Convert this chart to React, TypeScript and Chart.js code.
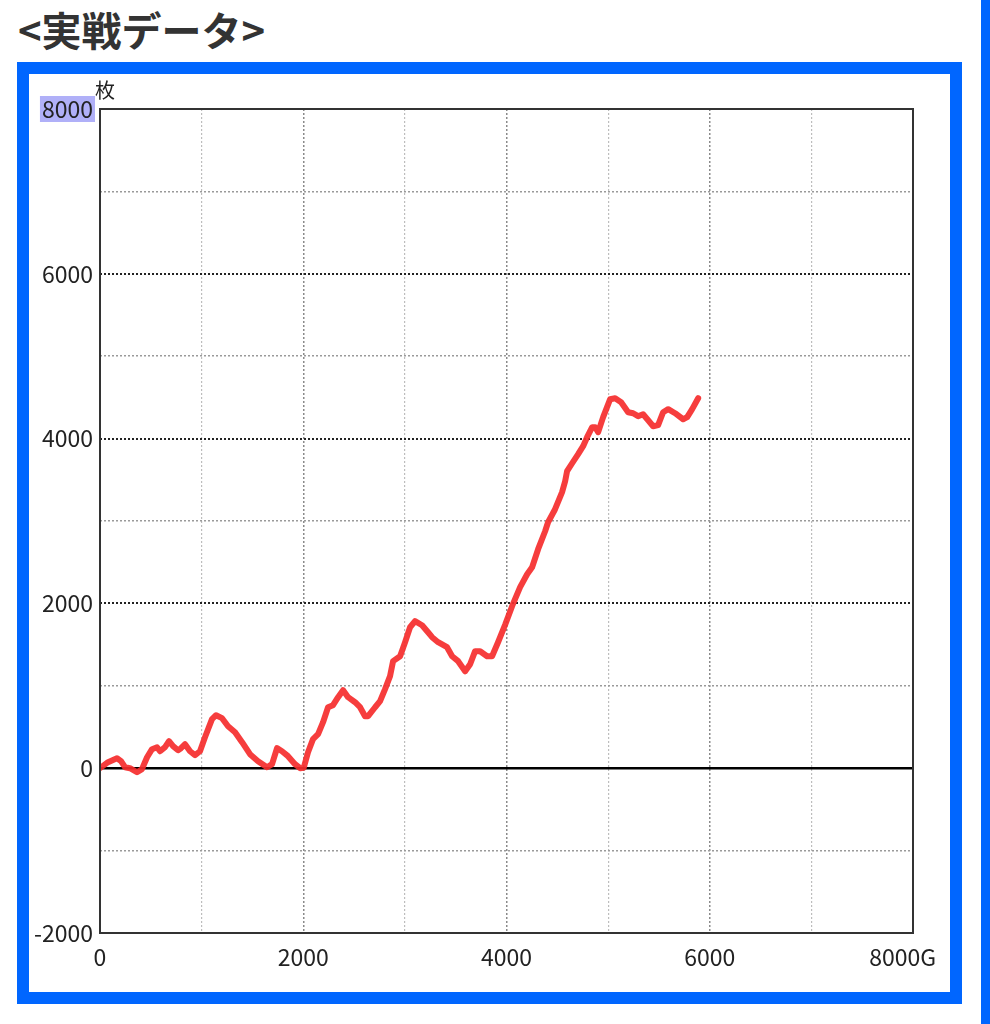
import React, { useEffect, useRef } from "react";
import { Chart, registerables } from "chart.js";

Chart.register(...registerables);

// game count (G)
const games = [
  0, 79, 167, 207, 246, 295, 364, 413, 463, 512, 561, 591, 640, 679, 719, 768, 797, 837, 886, 935,
  984, 1033, 1102, 1142, 1201, 1260, 1329, 1398, 1476, 1555, 1644, 1693, 1742, 1791, 1850, 1919,
  1969, 2005, 2047, 2096, 2146, 2195, 2244, 2293, 2343, 2392, 2441, 2510, 2559, 2608, 2638, 2707,
  2756, 2805, 2854, 2884, 2953, 3002, 3051, 3100, 3169, 3228, 3268, 3327, 3415, 3465, 3524, 3593,
  3642, 3691, 3740, 3809, 3858, 3917, 3986, 4055, 4134, 4203, 4252, 4311, 4380, 4409, 4478, 4547,
  4577, 4596, 4646, 4705, 4754, 4793, 4843, 4872, 4902, 4951, 5020, 5069, 5128, 5197, 5246, 5295,
  5344, 5394, 5443, 5492, 5541, 5591, 5659, 5738, 5778, 5827, 5886,
];
// medal difference (枚)
const medals = [
  0, 73, 121, 85, 12, 0, -49, -12, 133, 231, 255, 206, 255, 328, 267, 218, 243, 291, 206, 158,
  206, 376, 595, 643, 607, 510, 437, 316, 170, 85, 12, 49, 243, 206, 146, 49,
  0, 5, 194, 352, 413, 558, 740, 765, 862, 947, 862, 801, 740, 631, 631, 740,
  813, 959, 1117, 1299, 1359, 1529, 1711, 1784, 1735, 1650, 1590, 1529, 1468, 1359, 1299, 1177,
  1262, 1420, 1420, 1359, 1359, 1529, 1740, 1966, 2197, 2354, 2439, 2658, 2876, 2985, 3143, 3350,
  3483, 3604, 3701, 3811, 3908, 4017, 4138, 4138, 4078, 4260, 4478, 4490, 4442, 4320, 4308, 4272,
  4296, 4223, 4150, 4163, 4320, 4357, 4308, 4235, 4260, 4357, 4490,
];

const xMin = 0;
const xMax = 8000;
const yMin = -2000;
const yMax = 8000;
const xLabelValues = [0, 2000, 4000, 6000, 8000];
const xLabelTexts = ["0", "2000", "4000", "6000", "8000G    "];
const yLabelValues = [-2000, 0, 2000, 4000, 6000, 8000];
const yUnit = "枚";
const titleText = "<実戦データ>";

const FONT = '"Noto Sans CJK JP", "Noto Sans", sans-serif';
const BLUE = "#0066ff";

export default function App() {
  const ref = useRef<HTMLCanvasElement | null>(null);

  useEffect(() => {
    if (!ref.current) return;

    const decor = {
      id: "decor",
      beforeDraw(chart: any) {
        const { ctx } = chart;
        const y = chart.scales.y;
        // highlight behind top label
        ctx.save();
        ctx.font = `23px ${FONT}`;
        const w = ctx.measureText(String(yMax)).width;
        const py = y.getPixelForValue(yMax);
        ctx.fillStyle = "#b0b0f8";
        ctx.fillRect(93 - w - 2, py - 13, w + 4, 26);
        ctx.restore();
      },
      beforeDatasetsDraw(chart: any) {
        const { ctx, chartArea } = chart;
        const y = chart.scales.y;
        const p0 = y.getPixelForValue(0);
        ctx.save();
        ctx.strokeStyle = "#000";
        ctx.lineWidth = 2.5;
        ctx.beginPath();
        ctx.moveTo(chartArea.left, p0);
        ctx.lineTo(chartArea.right, p0);
        ctx.stroke();
        ctx.restore();
      },
      afterDraw(chart: any) {
        const { ctx, chartArea } = chart;
        ctx.save();
        ctx.strokeStyle = "#333";
        ctx.lineWidth = 2;
        ctx.strokeRect(chartArea.left, chartArea.top, chartArea.right - chartArea.left, chartArea.bottom - chartArea.top);
        ctx.fillStyle = "#222";
        ctx.font = `20px ${FONT}`;
        ctx.textAlign = "left";
        ctx.textBaseline = "bottom";
        ctx.fillText(yUnit, chartArea.left - 5, chartArea.top - 9);
        ctx.restore();
      },
    };

    const chart = new Chart(ref.current, {
      type: "line",
      data: {
        datasets: [
          {
            data: games.map((g, i) => ({ x: g, y: medals[i] })),
            borderColor: "rgba(245, 45, 45, 0.92)",
            borderWidth: 6,
            pointRadius: 0,
            tension: 0,
            borderJoinStyle: "round",
            borderCapStyle: "round",
            fill: false,
          },
        ],
      },
      options: {
        responsive: false,
        animation: false,
        maintainAspectRatio: false,
        layout: { padding: { left: 0, top: 109, right: 77, bottom: 51 } },
        plugins: { legend: { display: false }, tooltip: { enabled: false }, title: { display: false } },
        scales: {
          x: {
            type: "linear",
            min: xMin,
            max: xMax,
            afterFit(scale: any) {
              scale.height = 40;
            },
            afterBuildTicks(scale: any) {
              const t = [];
              for (let v = xMin; v <= xMax; v += 1000) t.push({ value: v });
              scale.ticks = t;
            },
            ticks: {
              autoSkip: false,
              maxRotation: 0,
              padding: 10,
              color: "#222",
              font: { family: FONT, size: 23 },
              callback: (v: any) => {
                const i = xLabelValues.indexOf(Number(v));
                return i >= 0 ? xLabelTexts[i] : "";
              },
            },
            grid: {
              drawTicks: false,
              color: (c: any) => (c.tick && c.tick.value % 2000 === 0 ? "#8a8a8a" : "#bdbdbd"),
              lineWidth: (c: any) => (c.tick && c.tick.value % 2000 === 0 ? 1.5 : 1.2),
            },
            border: { display: false, dash: [2, 2] },
          },
          y: {
            type: "linear",
            min: yMin,
            max: yMax,
            afterFit(scale: any) {
              scale.width = 100;
            },
            afterBuildTicks(scale: any) {
              const t = [];
              for (let v = yMin; v <= yMax; v += 1000) t.push({ value: v });
              scale.ticks = t;
            },
            ticks: {
              autoSkip: false,
              padding: 7,
              color: "#222",
              font: { family: FONT, size: 23 },
              callback: (v: any) => (yLabelValues.indexOf(Number(v)) >= 0 ? String(v) : ""),
            },
            grid: {
              drawTicks: false,
              color: (c: any) => (c.tick && c.tick.value % 2000 === 0 ? "#222" : "#9a9a9a"),
              lineWidth: (c: any) => (c.tick && c.tick.value % 2000 === 0 ? 2 : 1.5),
            },
            border: { display: false, dash: [2, 2] },
          },
        },
      },
      plugins: [decor],
    } as any);

    return () => chart.destroy();
  }, []);

  return (
    <div style={{ position: "absolute", left: 0, top: 0, width: 990, height: 1024, background: "#fff", overflow: "hidden" }}>
      <div
        style={{
          position: "absolute",
          left: 18,
          top: 7,
          fontFamily: FONT,
          fontWeight: 700,
          fontSize: 40,
          lineHeight: "44px",
          color: "#333",
          whiteSpace: "nowrap",
        }}
      >
        {titleText}
      </div>
      <div
        style={{
          position: "absolute",
          left: 17,
          top: 62,
          width: 945,
          height: 942,
          boxSizing: "border-box",
          border: `12px solid ${BLUE}`,
          background: "#fff",
        }}
      />
      <div style={{ position: "absolute", left: 981, top: 0, width: 9, height: 1024, background: BLUE }} />
      <canvas ref={ref} width={990} height={1024} style={{ position: "absolute", left: 0, top: 0, width: 990, height: 1024 }} />
    </div>
  );
}
